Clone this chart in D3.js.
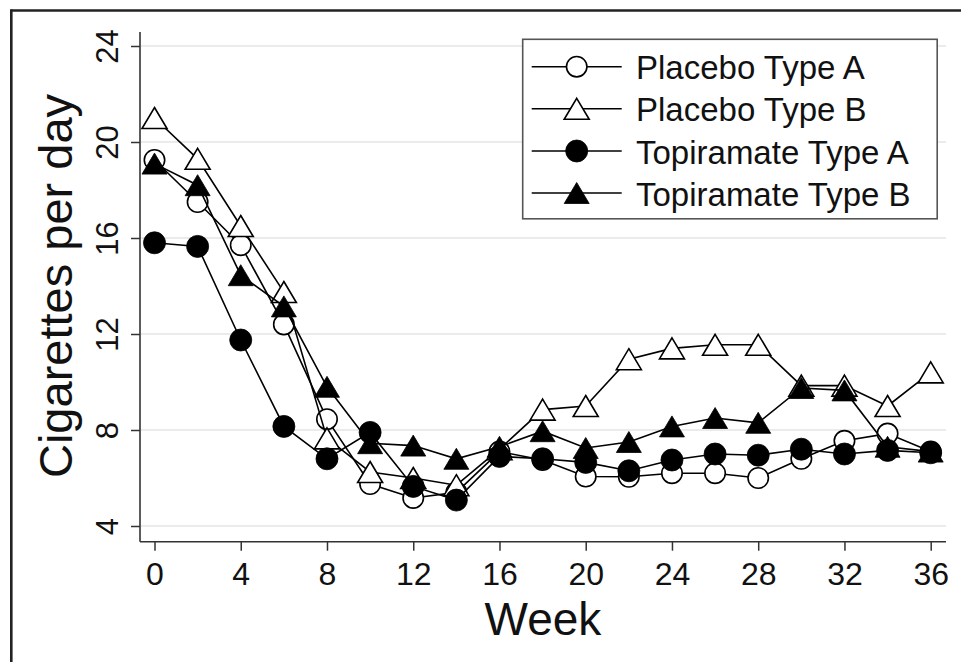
<!DOCTYPE html>
<html>
<head>
<meta charset="utf-8">
<script src="https://cdn.jsdelivr.net/npm/d3@7"></script>
<style>
  html, body { margin: 0; padding: 0; background: #ffffff; }
  svg { display: block; }
  text { font-family: "Liberation Sans", Arial, Helvetica, sans-serif; fill: #111; }
</style>
</head>
<body>
<svg id="chart" width="961" height="662"></svg>
<script>
const weeks = [0, 2, 4, 6, 8, 10, 12, 14, 16, 18, 20, 22, 24, 26, 28, 30, 32, 34, 36];
const placeboA = [19.25, 17.5, 15.7, 12.4, 8.45, 5.75, 5.17, 5.4, 7.1, 6.75, 6.06, 6.05, 6.2, 6.2, 6.0, 6.8, 7.55, 7.85, 7.1];
const placeboB = [21.0, 19.3, 16.5, 13.75, 7.65, 6.25, 6.0, 5.7, 7.2, 8.85, 9.0, 10.95, 11.4, 11.55, 11.55, 9.85, 9.85, 9.0, 10.4];
const topiramateA = [15.8, 15.65, 11.75, 8.15, 6.8, 7.9, 5.65, 5.08, 6.9, 6.8, 6.65, 6.3, 6.75, 7.0, 6.95, 7.2, 7.0, 7.15, 7.05];
const topiramateB = [19.1, 18.2, 14.45, 13.15, 9.8, 7.45, 7.35, 6.8, 7.3, 7.95, 7.25, 7.5, 8.15, 8.5, 8.3, 9.75, 9.65, 7.3, 7.1];
const seriesNames = ["Placebo Type A", "Placebo Type B", "Topiramate Type A", "Topiramate Type B"];
const xTicks = [0, 4, 8, 12, 16, 20, 24, 28, 32, 36];
const yTicks = [4, 8, 12, 16, 20, 24];
const xTitle = "Week";
const yTitle = "Cigarettes per day";

const series = [
  { name: seriesNames[0], values: placeboA, shape: "circle", filled: false },
  { name: seriesNames[1], values: placeboB, shape: "triangle", filled: false },
  { name: seriesNames[2], values: topiramateA, shape: "circle", filled: true },
  { name: seriesNames[3], values: topiramateB, shape: "triangle", filled: true }
];

const svg = d3.select("#chart");
const plotLeft = 140, plotRight = 946, plotTop = 32, plotBottom = 541.7;

const x = d3.scaleLinear().domain([0, 36]).range([154.5, 930.7]);
const y = d3.scaleLinear().domain([4, 24]).range([526, 46]);

// outer frame (left + top edges visible)
svg.append("rect").attr("x", 0).attr("y", 0).attr("width", 961).attr("height", 662).attr("fill", "#ffffff");
svg.append("line").attr("x1", 11.3).attr("x2", 961).attr("y1", 10.5).attr("y2", 10.5)
  .attr("stroke", "#222").attr("stroke-width", 2.6);
svg.append("line").attr("x1", 11.3).attr("x2", 11.3).attr("y1", 9.2).attr("y2", 662)
  .attr("stroke", "#222").attr("stroke-width", 2.6);

// gridlines
svg.append("g").selectAll("line").data(yTicks).join("line")
  .attr("x1", plotLeft).attr("x2", plotRight)
  .attr("y1", d => y(d)).attr("y2", d => y(d))
  .attr("stroke", "#e4e4e4").attr("stroke-width", 1.6);

// x axis
const xAxis = svg.append("g").attr("transform", `translate(0,${plotBottom})`)
  .call(d3.axisBottom(x).tickValues(xTicks).tickSize(9).tickFormat(d3.format("d")));
xAxis.select(".domain").remove();
xAxis.selectAll(".tick line").attr("stroke", "#333").attr("stroke-width", 1.5);
xAxis.selectAll(".tick text").attr("y", 43.5).attr("dy", 0)
  .style("font-size", "32px").attr("fill", "#111");
svg.append("line").attr("x1", plotLeft).attr("x2", plotRight)
  .attr("y1", plotBottom).attr("y2", plotBottom).attr("stroke", "#333").attr("stroke-width", 1.6);

// y axis
const yAxis = svg.append("g").attr("transform", `translate(${plotLeft},0)`)
  .call(d3.axisLeft(y).tickValues(yTicks).tickSize(9).tickFormat(d3.format("d")));
yAxis.select(".domain").remove();
yAxis.selectAll(".tick line").attr("stroke", "#333").attr("stroke-width", 1.5);
yAxis.selectAll(".tick text").attr("x", 0).attr("y", 0).attr("dy", 0)
  .attr("transform", "translate(-22,0) rotate(-90)")
  .attr("text-anchor", "middle")
  .style("font-size", "31px").attr("fill", "#111");
svg.append("line").attr("x1", plotLeft).attr("x2", plotLeft)
  .attr("y1", plotTop).attr("y2", plotBottom).attr("stroke", "#333").attr("stroke-width", 1.6);

// axis titles
svg.append("text").attr("x", (plotLeft + plotRight) / 2).attr("y", 635)
  .attr("text-anchor", "middle").style("font-size", "46px").text(xTitle);
svg.append("text").attr("transform", `translate(72,${(y(4) + y(24)) / 2}) rotate(-90)`)
  .attr("text-anchor", "middle").style("font-size", "47px").text(yTitle);

// markers
const triW = 25, triH = 21;
function drawMarker(g, cx, cy, s) {
  if (s.shape === "circle") {
    g.append("circle").attr("cx", cx).attr("cy", cy).attr("r", s.filled ? 11 : 10.2)
      .attr("fill", s.filled ? "#000" : "#fff")
      .attr("stroke", "#000").attr("stroke-width", s.filled ? 0.8 : 1.6);
  } else {
    const pts = [[cx, cy - triH / 2], [cx + triW / 2, cy + triH / 2], [cx - triW / 2, cy + triH / 2]];
    g.append("polygon").attr("points", pts.map(p => p.join(",")).join(" "))
      .attr("fill", s.filled ? "#000" : "#fff")
      .attr("stroke", "#000").attr("stroke-width", s.filled ? 0.8 : 1.6)
      .attr("stroke-linejoin", "miter");
  }
}

const line = d3.line().x(d => x(d[0])).y(d => y(d[1]));
series.forEach(s => {
  const g = svg.append("g");
  const pts = weeks.map((w, i) => [w, s.values[i]]);
  g.append("path").attr("d", line(pts)).attr("fill", "none")
    .attr("stroke", "#000").attr("stroke-width", 1.6);
  pts.forEach(p => drawMarker(g, x(p[0]), y(p[1]), s));
});

// legend
const legend = svg.append("g");
legend.append("rect").attr("x", 522.7).attr("y", 39.3).attr("width", 414.5).attr("height", 179.5)
  .attr("fill", "#fff").attr("stroke", "#555").attr("stroke-width", 1.6);
const rowY = [66.7, 108.8, 151, 193];
series.forEach((s, i) => {
  const g = legend.append("g");
  g.append("line").attr("x1", 531.7).attr("x2", 621.7).attr("y1", rowY[i]).attr("y2", rowY[i])
    .attr("stroke", "#000").attr("stroke-width", 1.6);
  drawMarker(g, 576.7, rowY[i], s);
  g.append("text").attr("x", 636).attr("y", rowY[i] + 12.5)
    .style("font-size", "33px").text(s.name);
});
</script>
</body>
</html>
